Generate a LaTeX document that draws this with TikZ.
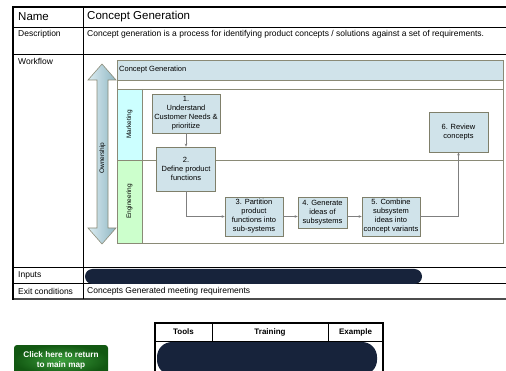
\documentclass[tikz,border=0pt]{standalone}
\usepackage{fontspec}
\setmainfont{Liberation Sans}
\usetikzlibrary{positioning, arrows.meta}

\definecolor{boxfill}{HTML}{D0E3EA}
\definecolor{boxline}{HTML}{7F7F6A}
\definecolor{laneline}{HTML}{8A8A76}
\definecolor{mktfill}{HTML}{CCFFFF}
\definecolor{engfill}{HTML}{CCFFCC}
\definecolor{flowgray}{HTML}{7F7F7F}
\definecolor{navyblob}{HTML}{17233B}
\definecolor{btnlight}{HTML}{3C9E3C}
\definecolor{btndark}{HTML}{125812}
\definecolor{ownlight}{HTML}{DCEDF2}
\definecolor{owndark}{HTML}{8FB6C3}

\begin{document}
\begin{tikzpicture}[
    x=1pt, y=-1pt,
    font=\fontsize{8.5}{10}\selectfont,
    >=Stealth,
    cell/.style={anchor=west, inner sep=0pt},
    bigcell/.style={cell, font=\fontsize{11.5}{13}\selectfont},
    rule/.style={line width=0.7pt},
    procbox/.style={draw=boxline, line width=0.7pt, fill=boxfill, align=center, inner sep=1pt, font=\fontsize{7.5}{9}\selectfont},
    lanelabel/.style={rotate=90, inner sep=0pt, font=\fontsize{6.5}{7}\selectfont},
    flow/.style={-{Stealth[length=3pt, width=2.6pt]}, draw=flowgray, line width=0.6pt},
    blob/.style={fill=navyblob},
    headcell/.style={font=\bfseries\fontsize{8}{9.5}\selectfont, inner sep=0pt}
]
\useasboundingbox (0,0) rectangle (506,371);

% Form table
\foreach \y in {27,54,267,283}
    \draw[rule] (13,\y) -- (506,\y);
\draw[line width=1.2pt, black!70] (13,299) -- (506,299);
\draw[rule] (83,7) -- (83,299);
\draw[line width=1.5pt] (13,299.6) -- (13,7) -- (506,7);

\node[bigcell] (name_lbl) at (18,17) {Name};
\node[cell] (desc_lbl) at (18,34) {Description};
\node[cell] (flow_lbl) at (18,61) {Workflow};
\node[cell] (in_lbl) at (18,275) {Inputs};
\node[cell] (exit_lbl) at (18,291) {Exit conditions};

\node[bigcell] (name_val) at (87,17) {Concept Generation};
\node[cell] (desc_val) at (87,34) {Concept generation is a process for identifying product concepts / solutions against a set of requirements.};
\node[cell] (exit_val) at (87,291) {Concepts Generated meeting requirements};
\fill[blob, rounded corners=7.5pt] (85,269) rectangle (422,284);

% Swimlanes
\fill[boxfill] (117,60) rectangle (503,80);
\fill[mktfill] (117,89) rectangle (142,160);
\fill[engfill] (117,160) rectangle (142,243);
\draw[laneline, line width=0.8pt] (117,60) rectangle (503,243);
\draw[laneline, line width=0.8pt] (117,80) -- (503,80) (117,89) -- (503,89)
    (117,160) -- (503,160) (142,89) -- (142,243);

\node[cell, font=\fontsize{7.5}{9}\selectfont] (phase) at (119,70) {Concept Generation};
\node[lanelabel] (mkt) at (129.5,124.5) {Marketing};
\node[lanelabel] (eng) at (129.5,201.5) {Engineering};

% Ownership arrow
\draw[laneline, line width=0.6pt, left color=ownlight, right color=owndark]
    (102,64) -- (116,80) -- (108,80) -- (108,228) -- (116,228) -- (102,244)
    -- (88,228) -- (97,228) -- (97,80) -- (88,80) -- cycle;
\node[lanelabel] (own) at (102.5,158) {Ownership};

% Process steps
\node[procbox, minimum width=68pt, minimum height=39pt] (needs) at (186,113.5) {1.\\Understand\\Customer Needs \&\\prioritize};
\node[procbox, minimum width=59pt, minimum height=44pt] (define) at (186,169) {2.\\Define product\\functions};
\node[procbox, minimum width=58pt, minimum height=39pt] (partition) at (254,216.5) {3. Partition\\product\\functions into\\sub-systems};
\node[procbox, minimum width=49pt, minimum height=31pt] (ideas) at (322.5,212.5) {4. Generate\\ideas of\\subsystems};
\node[procbox, minimum width=58pt, minimum height=39pt] (combine) at (391,216.5) {5. Combine\\subsystem\\ideas into\\concept variants};
\node[procbox, minimum width=59pt, minimum height=40pt] (review) at (458.5,132) {6. Review\\concepts};

% Arrows
\draw[flow] (needs) -- (define);
\draw[flow] (define.south) |- (partition.west);
\draw[flow] (partition.east) -- (partition.east -| ideas.west);
\draw[flow] (ideas.east |- combine.west) -- (combine.west);
\draw[flow] (combine.east) -| (review.south);

% Return button
\node[rounded corners=3pt, inner color=btnlight, outer color=btndark, text=white,
    font=\bfseries\fontsize{8.2}{10}\selectfont, align=center,
    minimum width=94pt, minimum height=30pt] (back) at (61,360) {Click here to return\\to main map};

% Tools table
\draw[line width=1.2pt] (155,380) -- (155,323) -- (383,323) -- (383,380);
\draw[rule] (155,341) -- (383,341) (212,323) -- (212,380) (328,323) -- (328,380);
\node[headcell] (tools) at (183.5,332) {Tools};
\node[headcell] (training) at (270,332) {Training};
\node[headcell] (example) at (355.5,332) {Example};
\fill[blob, rounded corners=15pt] (157,342) rectangle (377,375);

\end{tikzpicture}
\end{document}
